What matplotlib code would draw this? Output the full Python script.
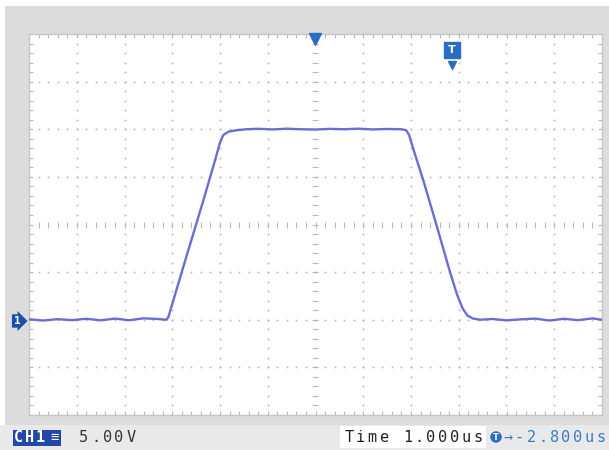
"""Oscilloscope screen capture: CH1 pulse, 5 V/div, 1 us/div."""
import numpy as np
import matplotlib.pyplot as plt
from matplotlib.patches import Rectangle

W, H = 609, 450

# trace: time in us from screen centre, volts above the CH1 ground marker
base_left_t = [-6.00, -5.70, -5.40, -5.10, -4.80, -4.50, -4.20, -3.90, -3.60, -3.30, -3.12]
base_left_v = [0.05, -0.08, 0.06, -0.04, 0.10, -0.06, 0.12, -0.05, 0.15, 0.08, 0.00]

rise_t = [-3.08, -2.70, -2.35, -2.10, -2.00, -1.93, -1.82, -1.65, -1.45]
rise_v = [0.3, 6.7, 12.5, 16.8, 18.6, 19.4, 19.75, 19.9, 20.0]

plateau_t = [-1.20, -0.90, -0.60, -0.30, 0.00, 0.30, 0.60, 0.90, 1.20, 1.50, 1.80]
plateau_v = [20.05, 19.98, 20.06, 20.00, 19.97, 20.04, 20.00, 20.06, 19.98, 20.03, 20.00]

fall_t = [1.90, 1.96, 2.05, 2.26, 2.53, 2.80, 2.96, 3.08, 3.18, 3.30, 3.46]
fall_v = [19.9, 19.4, 17.9, 14.6, 10.0, 5.3, 2.7, 1.2, 0.45, 0.12, 0.0]

base_right_t = [3.70, 4.00, 4.30, 4.60, 4.90, 5.20, 5.50, 5.80, 6.00]
base_right_v = [0.08, -0.06, 0.04, 0.12, -0.08, 0.10, -0.04, 0.14, 0.00]

volts_per_div = 5.0
us_per_div = 1.0
trigger_pos = 2.85      # "T" marker on the time axis
trigger_level = 28.1

ch_label = "5.00V"
time_label = "Time 1.000us"
offset_label = "\u2192-2.800us"

TRACE = "#6b6dd2"
BLUE = "#2b6cc4"
GRID = "#b8b8b8"
MONO = "DejaVu Sans Mono"


def px(x, y):
    """pixel (top-left origin) -> figure fraction"""
    return x / W, 1 - y / H


def mono_text(fig, x, y, s, pitch=11.7, **kw):
    # the scope font is wide, so place glyphs on a fixed pitch
    for i, ch in enumerate(s):
        fx, fy = px(x + i * pitch + pitch / 2, y)
        fig.text(fx, fy, ch, ha="center", va="center", family=MONO, **kw)


fig = plt.figure(figsize=(W / 100, H / 100), dpi=100)
fig.patch.set_facecolor("white")

# grey bezel and status bar
fig.add_artist(Rectangle(px(5, 425), 604 / W, 419 / H, transform=fig.transFigure,
                         facecolor="#dcdcdc", edgecolor="none", zorder=0))
fig.add_artist(Rectangle(px(0, 450), 1, 25 / H, transform=fig.transFigure,
                         facecolor="#e9e9e9", edgecolor="none", zorder=0))
fig.add_artist(Rectangle(px(340, 448), 146 / W, 22 / H, transform=fig.transFigure,
                         facecolor="white", edgecolor="none", zorder=1))

x0, y0 = px(29, 415)
ax = fig.add_axes([x0, y0, 573 / W, 381 / H])
ax.set_facecolor("white")

t_lo, t_hi = -6 * us_per_div, 6 * us_per_div
v_lo, v_hi = -2 * volts_per_div, 6 * volts_per_div
ax.set_xlim(t_lo, t_hi)
ax.set_ylim(v_lo, v_hi)
ax.set_xticks([])
ax.set_yticks([])
for sp in ax.spines.values():
    sp.set_color("#c4c4c4")
    sp.set_linewidth(1.0)

# graticule: dotted divisions, ruled centre lines and border
t_c = (t_lo + t_hi) / 2
v_c = (v_lo + v_hi) / 2
fine_t = np.arange(t_lo, t_hi + 1e-9, us_per_div / 5)
fine_v = np.arange(v_lo, v_hi + 1e-9, volts_per_div / 5)
for k in range(1, 12):
    t = t_lo + k * us_per_div
    if abs(t - t_c) < 1e-9:
        ax.plot(np.full_like(fine_v, t), fine_v, ls="none", marker="_",
                ms=5, mew=0.8, color=GRID, zorder=1)
    else:
        ax.plot(np.full_like(fine_v, t), fine_v, ls="none", marker="s",
                ms=1.2, mew=0, color=GRID, zorder=1)
for k in range(1, 8):
    v = v_lo + k * volts_per_div
    if abs(v - v_c) < 1e-9:
        ax.plot(fine_t, np.full_like(fine_t, v), ls="none", marker="|",
                ms=5, mew=0.8, color=GRID, zorder=1)
    else:
        ax.plot(fine_t, np.full_like(fine_t, v), ls="none", marker="s",
                ms=1.2, mew=0, color=GRID, zorder=1)
ax.plot(fine_t, np.full_like(fine_t, v_hi), ls="none", marker=3, ms=3,
        mew=0.8, color=GRID, clip_on=False)
ax.plot(fine_t, np.full_like(fine_t, v_lo), ls="none", marker=2, ms=3,
        mew=0.8, color=GRID, clip_on=False)
ax.plot(np.full_like(fine_v, t_lo), fine_v, ls="none", marker=1, ms=3,
        mew=0.8, color=GRID, clip_on=False)
ax.plot(np.full_like(fine_v, t_hi), fine_v, ls="none", marker=0, ms=3,
        mew=0.8, color=GRID, clip_on=False)

# the trace
t_all = base_left_t + rise_t + plateau_t + fall_t + base_right_t
v_all = base_left_v + rise_v + plateau_v + fall_v + base_right_v
ax.plot(t_all, v_all, color=TRACE, lw=1.7, zorder=3, solid_joinstyle="round")

# horizontal position marker and trigger marker
ax.plot(t_c, v_hi - 0.55, marker="v", ms=8, color=BLUE, clip_on=False, zorder=4)
ax.plot(trigger_pos, trigger_level + 0.25, marker="s", ms=11, color=BLUE, zorder=4)
ax.plot(trigger_pos, trigger_level - 1.35, marker="v", ms=6, color=BLUE, zorder=4)
ax.text(trigger_pos, trigger_level + 0.25, "T", color="white", ha="center",
        va="center", fontsize=8, fontweight="bold", zorder=5)

# channel 1 ground marker in the left bezel
fx, fy = px(17, 321)
fig.text(fx, fy, "1", color="white", fontsize=8, fontweight="bold", ha="center",
         va="center", family=MONO,
         bbox=dict(boxstyle="rarrow,pad=0.15", facecolor="#1d4fa8", edgecolor="none"))

# status bar
fig.add_artist(Rectangle(px(13, 446), 48 / W, 16 / H, transform=fig.transFigure,
                         facecolor="#2147a8", edgecolor="none", zorder=2))
mono_text(fig, 13, 438, "CH1", pitch=11.0, color="white", fontsize=11, fontweight="bold")
fig.text(*px(55, 437), "\u2261", color="white", fontsize=10, ha="center",
         va="center", family=MONO)
mono_text(fig, 78, 437, ch_label, color="#333333", fontsize=11)
mono_text(fig, 343, 437, time_label, color="#222222", fontsize=11)
fig.text(*px(496, 437), "T", color="white", fontsize=6, fontweight="bold",
         ha="center", va="center",
         bbox=dict(boxstyle="circle,pad=0.15", facecolor=BLUE, edgecolor="none"))
mono_text(fig, 502, 437, offset_label, pitch=11.6, color="#3a7cc2", fontsize=11)

fig.savefig("out.png", dpi=100)
